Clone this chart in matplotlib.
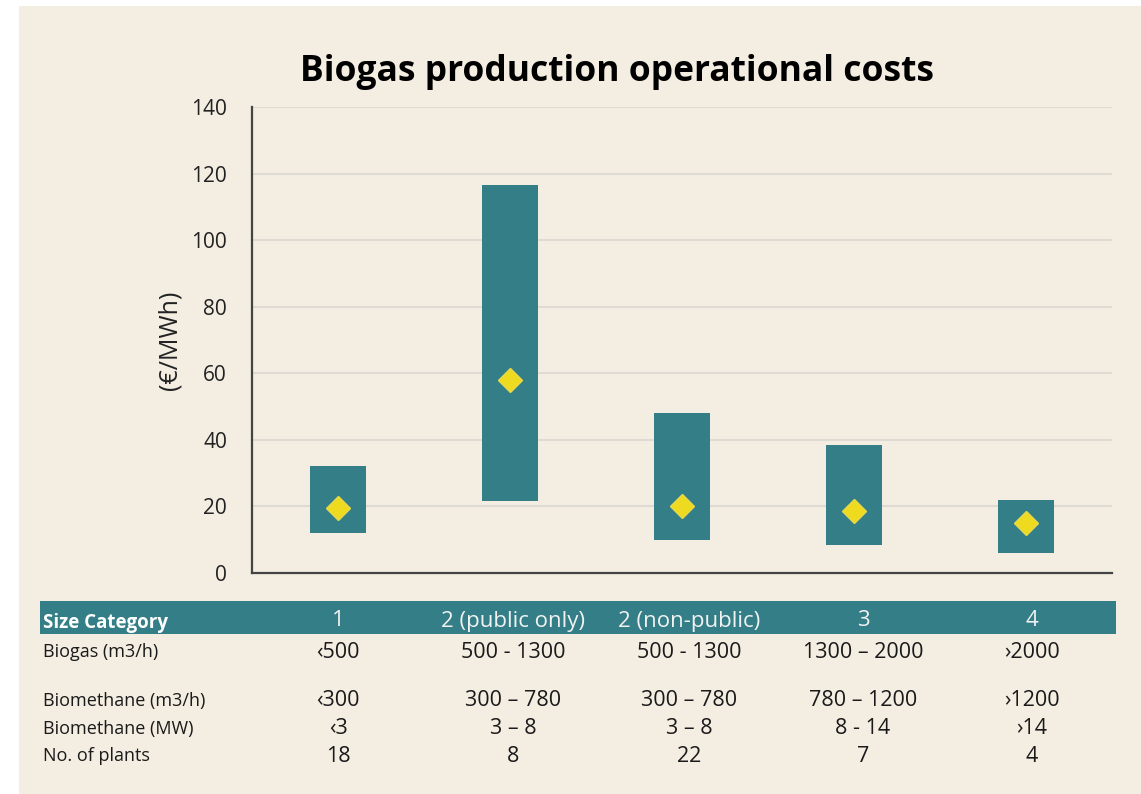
import matplotlib
matplotlib.use("Agg")
import matplotlib.pyplot as plt
from matplotlib.patches import Rectangle

# data
categories = ["1", "2 (public only)", "2 (non-public)", "3", "4"]
cost_low = [12, 21.5, 10, 8.5, 6]
cost_high = [32, 116.5, 48, 38.5, 22]
cost_mean = [19.5, 58, 20, 18.5, 15]

row_labels = ["Biogas (m3/h)", "Biomethane (m3/h)", "Biomethane (MW)", "No. of plants"]
biogas = ["\u2039500", "500 - 1300", "500 - 1300", "1300 \u2013 2000", "\u203a2000"]
biomethane_m3 = ["\u2039300", "300 \u2013 780", "300 \u2013 780", "780 \u2013 1200", "\u203a1200"]
biomethane_mw = ["\u20393", "3 \u2013 8", "3 \u2013 8", "8 - 14", "\u203a14"]
n_plants = ["18", "8", "22", "7", "4"]
yticks = [0, 20, 40, 60, 80, 100, 120, 140]

BG = "#F3EDE2"
TEAL = "#347F87"
YELLOW = "#EEDB1F"
FONT = ["Open Sans", "DejaVu Sans"]
plt.rcParams["font.family"] = FONT

W, H = 1141, 794
fig = plt.figure(figsize=(W / 100, H / 100), dpi=100)
fig.patch.set_facecolor("white")
fig.patches.append(Rectangle((19 / W, 0), 1, 1 - 6 / H, transform=fig.transFigure,
                             facecolor=BG, edgecolor="none", zorder=-10))

ax = fig.add_axes([252 / W, 1 - 573 / H, 860 / W, 466 / H])
ax.patch.set_alpha(0)

x = [i + 0.5 for i in range(len(categories))]
heights = [h - l for l, h in zip(cost_low, cost_high)]
ax.bar(x, heights, bottom=cost_low, width=0.32, color=TEAL, zorder=3)
ax.plot(x, cost_mean, ls="none", marker="D", markersize=12, color=YELLOW,
        markeredgecolor="#E8D84A", zorder=4)

ax.set_xlim(0, 5)
ax.set_ylim(0, 140)
ax.set_yticks(yticks)
ax.set_xticks([])
ax.tick_params(axis="y", length=0, pad=18, labelsize=15, labelcolor="#222222")
ax.yaxis.grid(True, color="#DEDBD5", lw=1.5, zorder=0)
for s in ["top", "right"]:
    ax.spines[s].set_visible(False)
for s in ["left", "bottom"]:
    ax.spines[s].set_color("#444444")
    ax.spines[s].set_linewidth(1.6)
ax.set_ylabel("(\u20ac/MWh)", fontsize=18, color="#222222", labelpad=6)

fig.text(617 / W, 1 - 72 / H, "Biogas production operational costs",
         ha="center", va="center", fontsize=25.5, fontweight="bold", color="black")

# table under the chart
col_x = [338, 513, 689, 863, 1032]
fig.patches.append(Rectangle((40 / W, 1 - 634 / H), (1116 - 40) / W, 33 / H,
                             transform=fig.transFigure, facecolor=TEAL,
                             edgecolor="none"))
fig.text(43 / W, 1 - 623 / H, "Size Category", ha="left", va="center",
         fontsize=13.5, fontweight="bold", color="white")
for cx, c in zip(col_x, categories):
    fig.text(cx / W, 1 - 621 / H, c, ha="center", va="center", fontsize=16,
             color="#F2F2F2")

row_y = [652, 701, 729, 756]
rows = [biogas, biomethane_m3, biomethane_mw, n_plants]
for ry, lab, vals in zip(row_y, row_labels, rows):
    fig.text(43 / W, 1 - ry / H, lab, ha="left", va="center", fontsize=13,
             color="#1A1A1A")
    for cx, v in zip(col_x, vals):
        fig.text(cx / W, 1 - ry / H, v, ha="center", va="center", fontsize=15.5,
                 color="#1A1A1A")

fig.savefig("out.png", dpi=100)
